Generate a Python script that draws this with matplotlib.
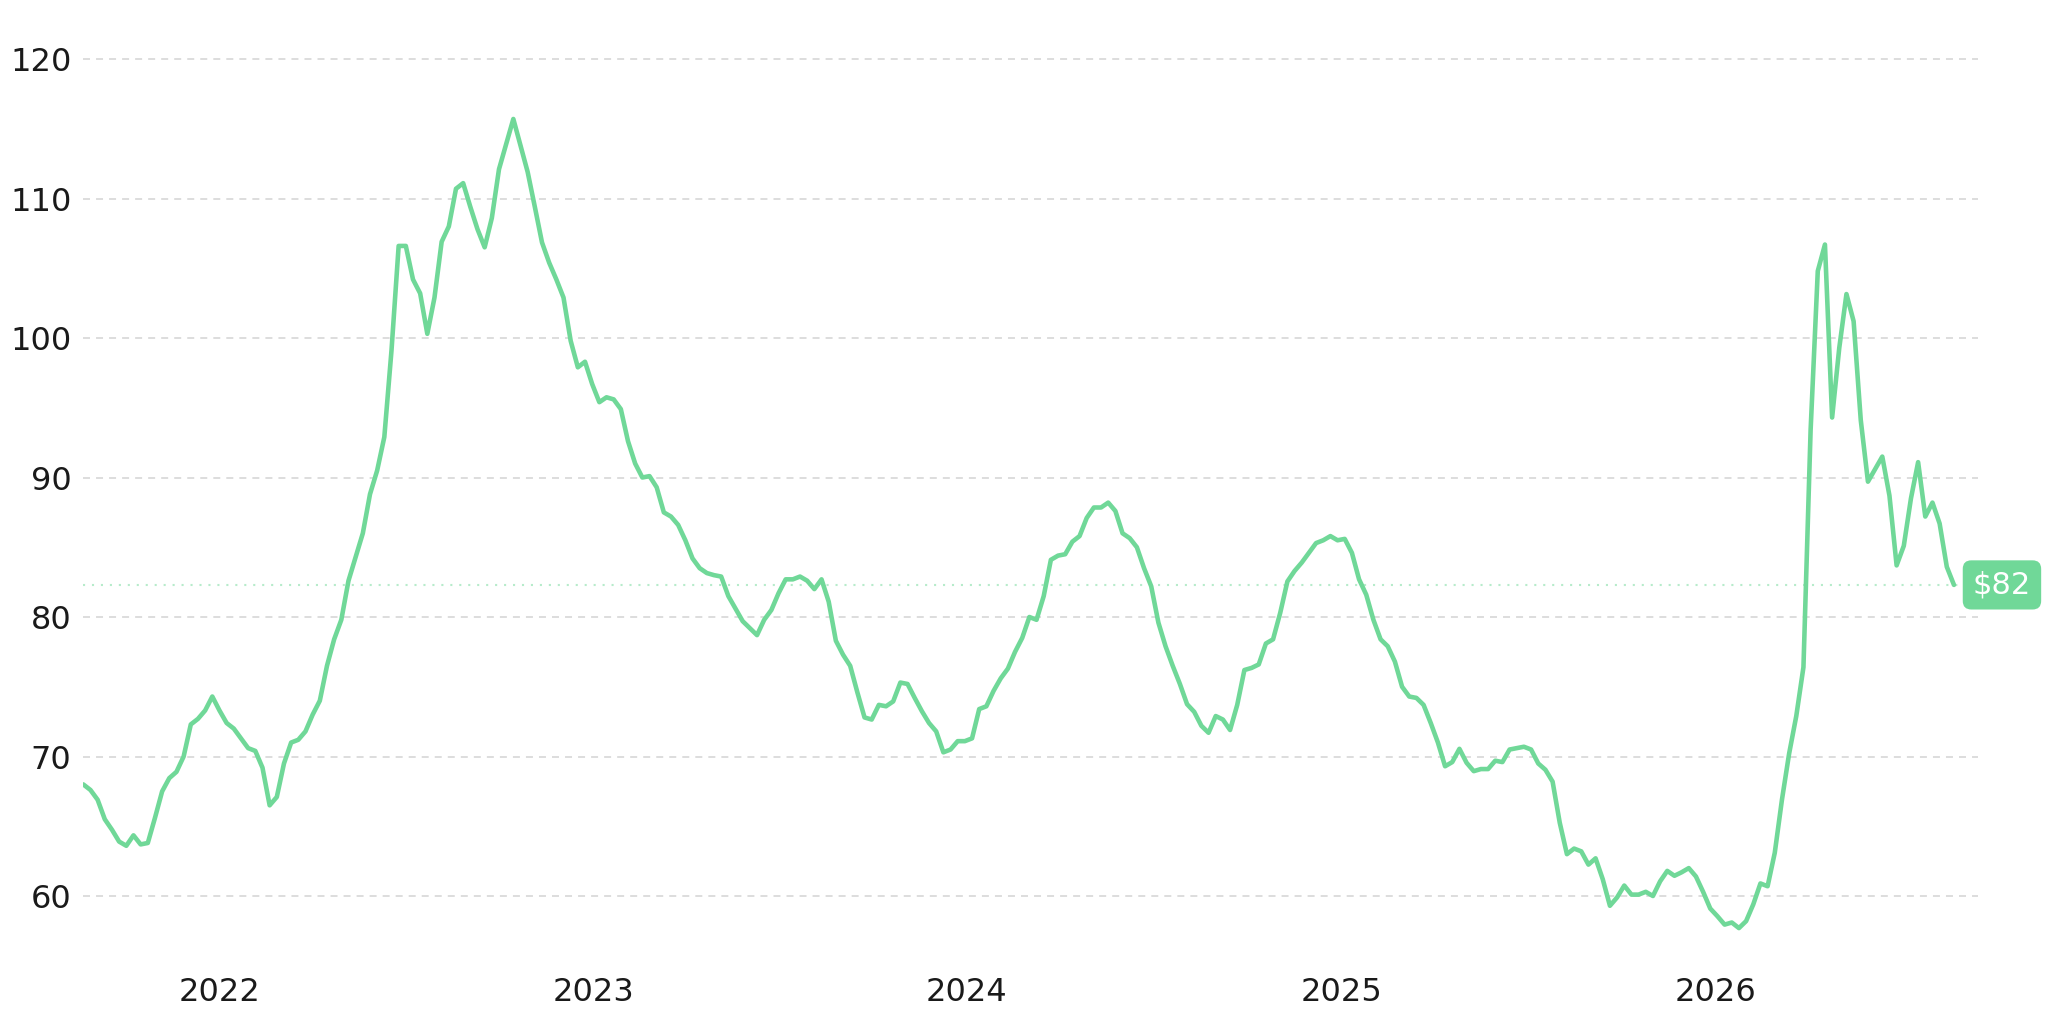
import pandas as pd
import matplotlib
matplotlib.use("Agg")
import matplotlib.pyplot as plt
import matplotlib.dates as mdates

# weekly price
start_date = "2021-08-21"
prices = [
    68.0, 67.6, 66.9, 65.5, 64.75, 63.9, 63.6, 64.35, 63.7, 63.8,
    65.6, 67.5, 68.45, 68.9, 70.0, 72.3, 72.7, 73.3, 74.3, 73.3,
    72.4, 72.0, 71.3, 70.6, 70.4, 69.2, 66.5, 67.1, 69.5, 71.0,
    71.2, 71.8, 73.0, 74.0, 76.5, 78.4, 79.8, 82.6, 84.3, 86.0,
    88.8, 90.5, 92.9, 99.1, 106.6, 106.6, 104.2, 103.2, 100.3, 102.9,
    106.9, 108.0, 110.7, 111.1, 109.4, 107.8, 106.5, 108.6, 112.1, 113.9,
    115.7, 113.8, 111.9, 109.4, 106.85, 105.4, 104.2, 102.9, 99.8, 97.9,
    98.3, 96.7, 95.4, 95.75, 95.6, 94.9, 92.6, 91.0, 90.0, 90.1,
    89.3, 87.5, 87.2, 86.6, 85.5, 84.2, 83.5, 83.15, 83.0, 82.9,
    81.5, 80.6, 79.7, 79.2, 78.7, 79.8, 80.5, 81.7, 82.7, 82.7,
    82.9, 82.6, 82.0, 82.7, 81.1, 78.3, 77.3, 76.5, 74.6, 72.8,
    72.65, 73.7, 73.6, 73.95, 75.3, 75.2, 74.2, 73.25, 72.4, 71.8,
    70.3, 70.5, 71.1, 71.1, 71.3, 73.4, 73.6, 74.7, 75.6, 76.3,
    77.5, 78.5, 80.0, 79.8, 81.5, 84.1, 84.4, 84.5, 85.4, 85.8,
    87.1, 87.85, 87.85, 88.2, 87.6, 86.0, 85.65, 85.0, 83.5, 82.2,
    79.6, 77.9, 76.5, 75.2, 73.75, 73.2, 72.2, 71.7, 72.9, 72.65,
    71.9, 73.7, 76.2, 76.35, 76.6, 78.1, 78.4, 80.3, 82.55, 83.3,
    83.9, 84.6, 85.3, 85.5, 85.8, 85.5, 85.6, 84.6, 82.7, 81.6,
    79.8, 78.4, 77.9, 76.8, 75.0, 74.3, 74.2, 73.7, 72.4, 71.0,
    69.3, 69.6, 70.55, 69.55, 68.95, 69.1, 69.1, 69.7, 69.6, 70.5,
    70.6, 70.7, 70.5, 69.5, 69.05, 68.2, 65.25, 63.0, 63.4, 63.2,
    62.25, 62.7, 61.2, 59.3, 59.9, 60.75, 60.1, 60.1, 60.3, 60.0,
    61.05, 61.8, 61.45, 61.7, 62.0, 61.4, 60.3, 59.1, 58.55, 57.95,
    58.1, 57.7, 58.2, 59.4, 60.9, 60.7, 63.1, 66.9, 70.2, 72.9,
    76.4, 93.4, 104.8, 106.7, 94.3, 99.3, 103.15, 101.2, 94.1, 89.7,
    90.6, 91.5, 88.7, 83.7, 85.1, 88.5, 91.1, 87.2, 88.2, 86.7,
    83.6, 82.3,
]
y_ticks = [60, 70, 80, 90, 100, 110, 120]
last_label = "$82"

LINE = "#70D898"
GRID = "#DDDDDD"
TEXT = "#1A1A1A"

dates = pd.date_range(start_date, periods=len(prices), freq="7D")

fig = plt.figure(figsize=(20.48, 10.24), dpi=100)
ax = fig.add_axes([0.04067, 0.05688, 0.92491, 0.93999])

ax.plot(dates, prices, color=LINE, linewidth=3.3, solid_joinstyle="round",
        solid_capstyle="round", zorder=3)

# reference line at last price
ax.axhline(prices[-1], color=LINE, alpha=0.5, linewidth=1.5,
           linestyle=(0, (1, 3.3)), zorder=1)

ax.set_ylim(55, 124)
ax.set_xlim(dates[0], dates[-1] + pd.Timedelta(days=23))
ax.set_yticks(y_ticks)
ax.yaxis.grid(True, color=GRID, linewidth=1.4, linestyle=(0, (3.6, 3.1)))
ax.xaxis.grid(False)
ax.set_axisbelow(True)

ax.xaxis.set_major_locator(mdates.YearLocator())
ax.xaxis.set_major_formatter(mdates.DateFormatter("%Y"))

for side in ["top", "right", "left", "bottom"]:
    ax.spines[side].set_visible(False)
ax.tick_params(axis="y", length=0, pad=8.6, labelsize=23, labelcolor=TEXT)
ax.tick_params(axis="x", length=0, pad=8, labelsize=23, labelcolor=TEXT)

ax.annotate(
    last_label,
    xy=(dates[-1], prices[-1]),
    xytext=(48, 0),
    textcoords="offset pixels",
    ha="center",
    va="center",
    fontsize=22,
    color="white",
    annotation_clip=False,
    bbox=dict(boxstyle="round,pad=0.33,rounding_size=0.28", fc=LINE, ec="none"),
    zorder=5,
)

fig.savefig("out.png", dpi=100, facecolor="white")
